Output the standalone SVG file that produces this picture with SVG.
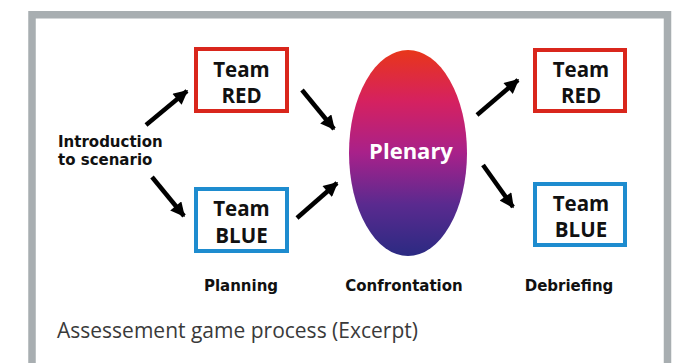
<svg xmlns="http://www.w3.org/2000/svg" width="674" height="363" viewBox="0 0 674 363">
<style>
.frame{fill:none;stroke:#a8aeb1;stroke-width:7.5}
.red{fill:#fff;stroke:#d9261c;stroke-width:4}
.blue{fill:#fff;stroke:#1e8ccf;stroke-width:4}
.t{font-family:"Open Sans","Liberation Sans",sans-serif;font-weight:bold;fill:#111;text-anchor:middle}
.box{font-size:20.5px}
.lbl{font-family:"DejaVu Sans","Liberation Sans",sans-serif;font-size:15px}
.arr{stroke:#000;stroke-width:4.5;fill:none;marker-end:url(#ah)}
.cap{font-family:"Open Sans","Liberation Sans",sans-serif;font-size:21px;fill:#3a3a3a}
</style>
<defs>
<marker id="ah" viewBox="0 0 10 10" refX="9" refY="5" markerWidth="3.4" markerHeight="3.2" orient="auto" markerUnits="strokeWidth">
<path d="M0,0 L10,5 L0,10 z" fill="#000"/>
</marker>
<linearGradient id="pg" x1="0" y1="0" x2="0" y2="1">
<stop offset="0" stop-color="#e8361a"/>
<stop offset="0.25" stop-color="#d52160"/>
<stop offset="0.5" stop-color="#a8218a"/>
<stop offset="0.75" stop-color="#5a2a8f"/>
<stop offset="1" stop-color="#2b2a82"/>
</linearGradient>
</defs>
<rect width="674" height="363" fill="#fff"/>
<path class="frame" d="M32,370 V14.8 H667.5 V370"/>
<g id="intro">
<text class="t lbl" x="58" y="147" style="text-anchor:start">Introduction</text>
<text class="t lbl" x="58" y="165" style="text-anchor:start">to scenario</text>
</g>
<g id="red1">
<rect class="red" x="196" y="49" width="91" height="62"/>
<text class="t box" x="241.5" y="77">Team</text>
<text class="t box" x="241.5" y="103">RED</text>
</g>
<g id="blue1">
<rect class="blue" x="196" y="189" width="91" height="62"/>
<text class="t box" x="241.5" y="216">Team</text>
<text class="t box" x="241.5" y="243">BLUE</text>
</g>
<g id="plenary">
<ellipse cx="408" cy="153" rx="59" ry="103" fill="url(#pg)"/>
<text class="t" x="411" y="159" style="font-size:22px;fill:#fff">Plenary</text>
</g>
<g id="red2">
<rect class="red" x="535" y="50" width="90" height="61"/>
<text class="t box" x="581" y="77">Team</text>
<text class="t box" x="581" y="103">RED</text>
</g>
<g id="blue2">
<rect class="blue" x="535" y="184" width="90" height="61"/>
<text class="t box" x="581" y="211">Team</text>
<text class="t box" x="581" y="237">BLUE</text>
</g>
<g id="connectors">
<path class="arr" d="M146,125 L187,91"/>
<path class="arr" d="M152,177 L184,216"/>
<path class="arr" d="M302,90 L334,129"/>
<path class="arr" d="M297,218 L337,183"/>
<path class="arr" d="M477,115 L518,80"/>
<path class="arr" d="M483,165 L513,207"/>
</g>
<g id="phases">
<text class="t lbl" x="241" y="291">Planning</text>
<text class="t lbl" x="404" y="291">Confrontation</text>
<text class="t lbl" x="569" y="291">Debriefing</text>
</g>
<text class="cap" x="57" y="338">Assessement game process (Excerpt)</text>
</svg>
